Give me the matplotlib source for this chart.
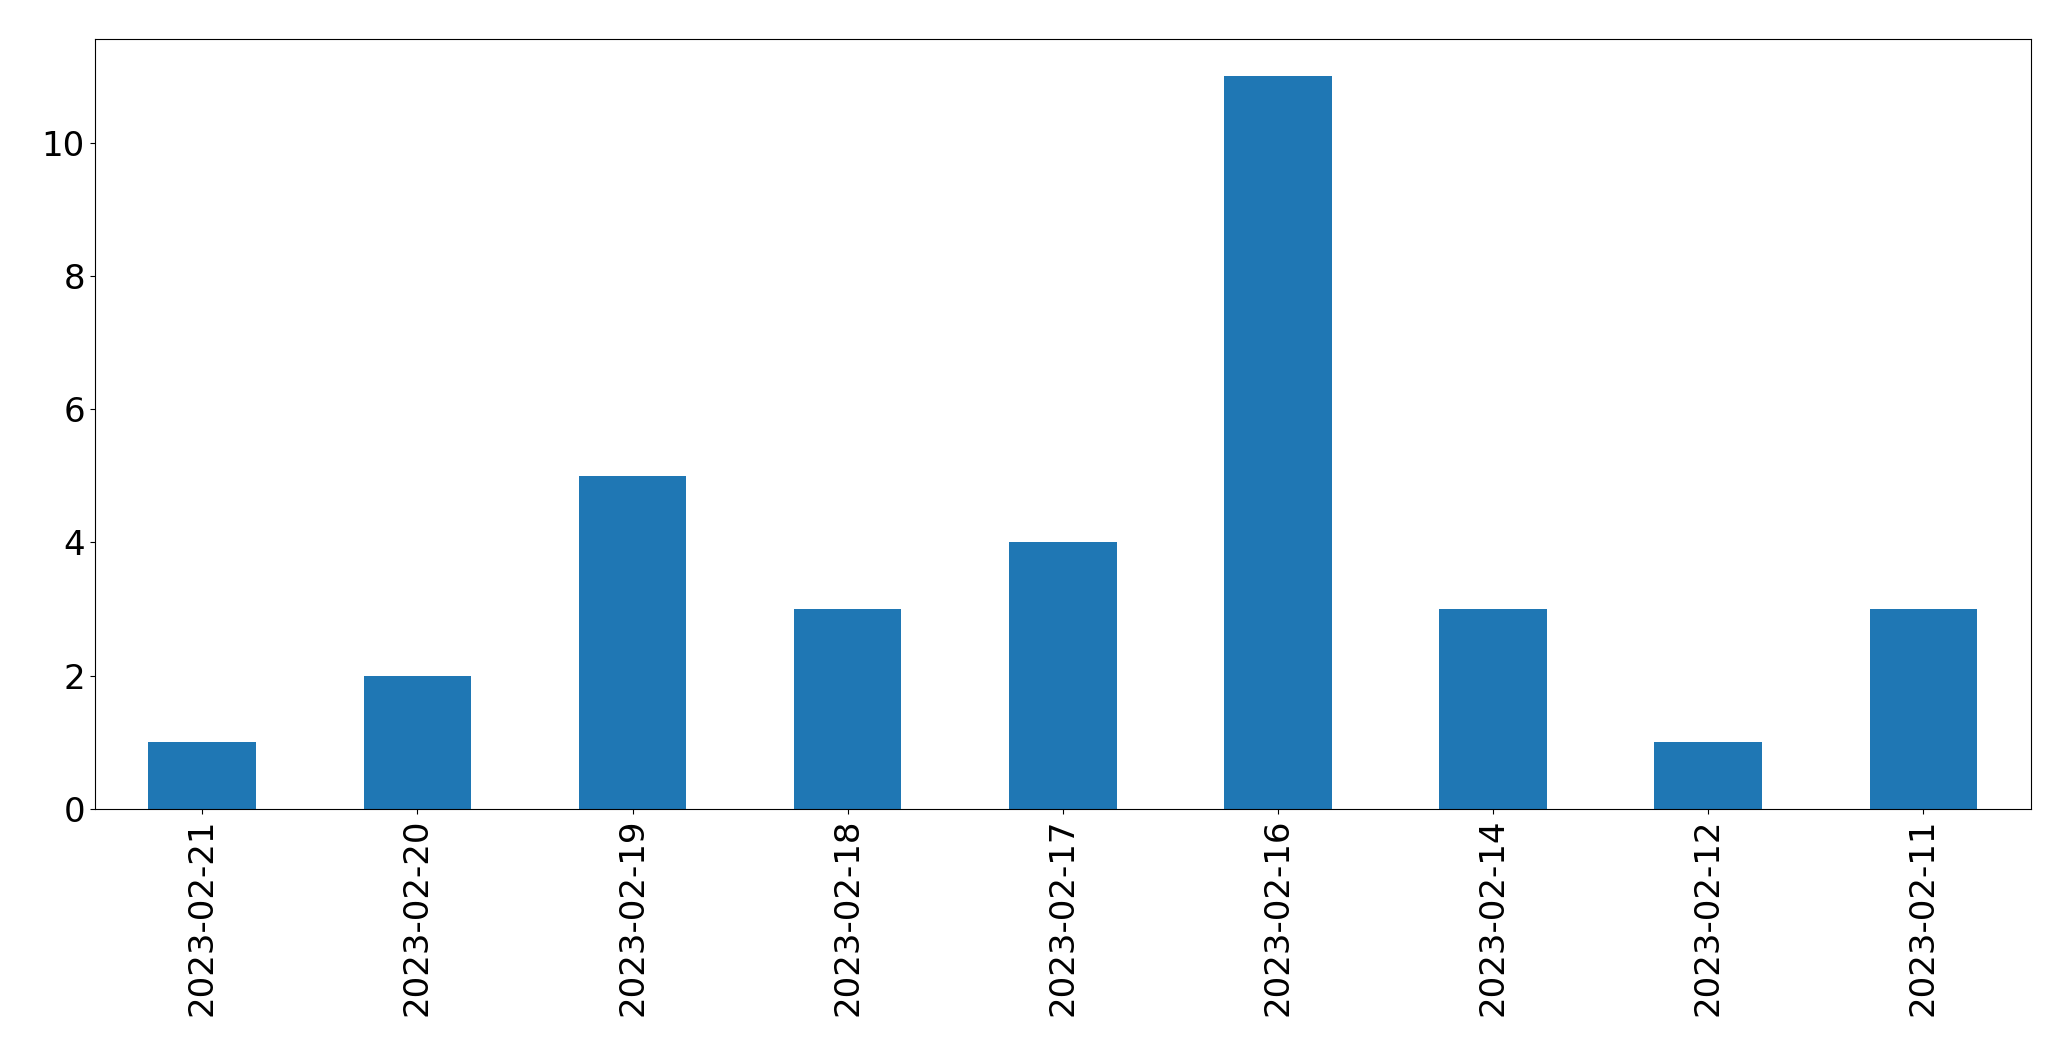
import matplotlib
matplotlib.use('Agg')
import pandas as pd
from matplotlib import pyplot as plt

dates = ['2023-02-21', '2023-02-20', '2023-02-19', '2023-02-18', '2023-02-17',
         '2023-02-16', '2023-02-14', '2023-02-12', '2023-02-11']
counts = [1, 2, 5, 3, 4, 11, 3, 1, 3]

s = pd.Series(counts, index=dates)

fig = plt.figure(figsize=(20.71, 10.61), dpi=100)
ax = fig.add_axes([94.7 / 2071, 1 - 809 / 1061, (2031 - 94.7) / 2071, (809 - 39.3) / 1061])
s.plot(kind='bar', ax=ax, color='#1f77b4', fontsize=24.5)
ax.tick_params(axis='x', labelrotation=90)

fig.savefig('out.png', dpi=100)
